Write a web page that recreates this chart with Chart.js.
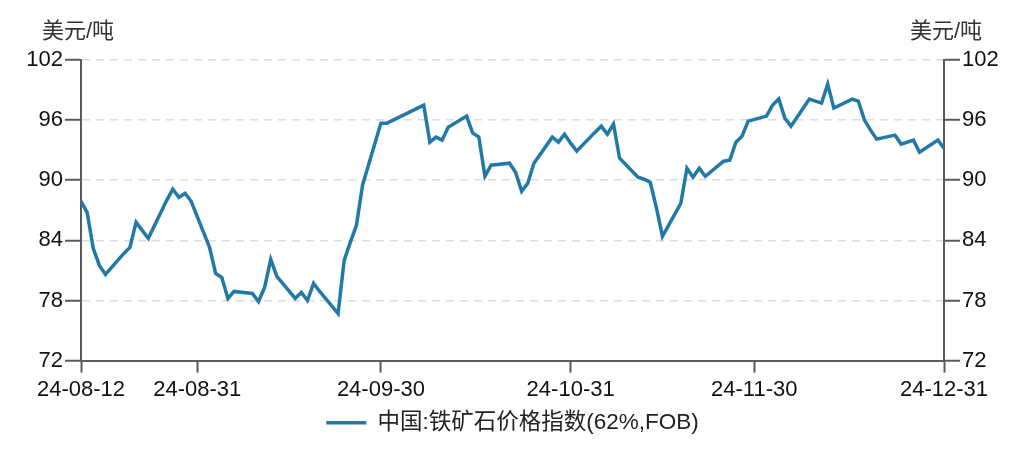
<!DOCTYPE html>
<html>
<head>
<meta charset="utf-8">
<script src="https://cdn.jsdelivr.net/npm/chart.js@4/dist/chart.umd.min.js"></script>
<style>
  html, body { margin: 0; padding: 0; background: #fff; }
  #wrap { width: 1025px; height: 452px; }
</style>
</head>
<body>
<div id="wrap"><canvas id="myChart" width="1025" height="452"></canvas></div>
<script>
// iron ore index, business days
const dates = [
  "2024-08-12","2024-08-13","2024-08-14","2024-08-15","2024-08-16",
  "2024-08-19","2024-08-20","2024-08-21","2024-08-22","2024-08-23",
  "2024-08-26","2024-08-27","2024-08-28","2024-08-29","2024-08-30",
  "2024-09-02","2024-09-03","2024-09-04","2024-09-05","2024-09-06",
  "2024-09-09","2024-09-10","2024-09-11","2024-09-12","2024-09-13",
  "2024-09-16","2024-09-17","2024-09-18","2024-09-19","2024-09-20",
  "2024-09-23","2024-09-24","2024-09-25","2024-09-26","2024-09-27",
  "2024-09-30","2024-10-01","2024-10-02","2024-10-03","2024-10-04",
  "2024-10-07","2024-10-08","2024-10-09","2024-10-10","2024-10-11",
  "2024-10-14","2024-10-15","2024-10-16","2024-10-17","2024-10-18",
  "2024-10-21","2024-10-22","2024-10-23","2024-10-24","2024-10-25",
  "2024-10-28","2024-10-29","2024-10-30","2024-10-31","2024-11-01",
  "2024-11-04","2024-11-05","2024-11-06","2024-11-07","2024-11-08",
  "2024-11-11","2024-11-12","2024-11-13","2024-11-14","2024-11-15",
  "2024-11-18","2024-11-19","2024-11-20","2024-11-21","2024-11-22",
  "2024-11-25","2024-11-26","2024-11-27","2024-11-28","2024-11-29",
  "2024-12-02","2024-12-03","2024-12-04","2024-12-05","2024-12-06",
  "2024-12-09","2024-12-10","2024-12-11","2024-12-12","2024-12-13",
  "2024-12-16","2024-12-17","2024-12-18","2024-12-19","2024-12-20",
  "2024-12-23","2024-12-24","2024-12-26","2024-12-27",
  "2024-12-30","2024-12-31"
];
const values = [
  87.9, 86.8, 83.2, 81.5, 80.6,
  82.7, 83.3, 85.8, 85.0, 84.2,
  88.0, 89.1, 88.3, 88.7, 87.9,
  83.3, 80.7, 80.3, 78.2, 78.9,
  78.7, 77.9, 79.3, 82.1, 80.4,
  78.2, 78.8, 78.0, 79.7, 78.9,
  76.7, 82.0, 83.8, 85.5, 89.5,
  95.7, 95.7, 96.0, 96.3, 96.6,
  97.5, 93.8, 94.3, 94.0, 95.3,
  96.4, 94.7, 94.3, 90.4, 91.5,
  91.7, 90.8, 88.9, 89.7, 91.7,
  94.3, 93.8, 94.6, 93.7, 92.9,
  94.8, 95.4, 94.6, 95.6, 92.2,
  90.3, 90.1, 89.8, 87.3, 84.4,
  87.7, 91.2, 90.3, 91.2, 90.4,
  91.9, 92.0, 93.8, 94.4, 95.9,
  96.4, 97.5, 98.1, 96.2, 95.4,
  98.1, 97.9, 97.7, 99.6, 97.2,
  98.1, 97.9, 96.0, 95.0, 94.1,
  94.5, 93.6, 94.0, 92.8,
  94.0, 93.2
];
const xTickDates = ["2024-08-12","2024-08-31","2024-09-30","2024-10-31","2024-11-30","2024-12-31"];
const yTicks = [72, 78, 84, 90, 96, 102];
const seriesName = "中国:铁矿石价格指数(62%,FOB)";
const unitLabel = "美元/吨";

const DAY = 86400000;
const start = Date.parse(dates[0]);
const dayNo = (s) => Math.round((Date.parse(s) - start) / DAY);
const pad = (n) => String(n).padStart(2, "0");
const fmt = (d) => {
  const t = new Date(start + d * DAY);
  return pad(t.getUTCFullYear() % 100) + "-" + pad(t.getUTCMonth() + 1) + "-" + pad(t.getUTCDate());
};

const FONT = "'Liberation Sans', 'Noto Sans CJK SC', sans-serif";
const AXIS = "#5a5a5a";
const BLUE = "#2279a8";

const unitTitles = {
  id: "unitTitles",
  afterDraw(chart) {
    const ctx = chart.ctx;
    ctx.save();
    ctx.font = "22px " + FONT;
    ctx.fillStyle = "#333";
    ctx.textBaseline = "middle";
    ctx.textAlign = "left";
    ctx.fillText(unitLabel, 42, 32);
    ctx.textAlign = "right";
    ctx.fillText(unitLabel, 982, 32);
    ctx.restore();
  }
};

const yAxis = (pos) => ({
  position: pos,
  min: 72,
  max: 102,
  afterBuildTicks: (s) => { s.ticks = yTicks.map(v => ({ value: v })); },
  afterFit: (s) => { s.width = 81; },
  ticks: { color: "#111", font: { size: 22, family: FONT }, padding: 2 },
  grid: {
    drawOnChartArea: pos === "left",
    color: "#dcdcdc",
    lineWidth: 1.5,
    tickLength: 16,
    tickColor: AXIS,
    tickWidth: 2
  },
  border: { display: true, color: AXIS, width: 2, dash: [8, 6] }
});

new Chart(document.getElementById("myChart").getContext("2d"), {
  type: "line",
  data: {
    datasets: [{
      label: seriesName,
      data: dates.map((d, i) => ({ x: dayNo(d), y: values[i] })),
      borderColor: BLUE,
      backgroundColor: BLUE,
      borderWidth: 3.5,
      pointRadius: 0,
      tension: 0
    }]
  },
  options: {
    responsive: false,
    animation: false,
    layout: { padding: { top: 60, left: 0, right: 0, bottom: 8 } },
    plugins: {
      tooltip: { enabled: false },
      legend: {
        position: "bottom",
        labels: {
          color: "#222",
          font: { size: 22.5, family: FONT },
          usePointStyle: true,
          pointStyle: "line",
          pointStyleWidth: 40,
          boxHeight: 3,
          padding: 4.5
        }
      }
    },
    scales: {
      x: {
        type: "linear",
        min: 0,
        max: dayNo(xTickDates[xTickDates.length - 1]),
        afterBuildTicks: (s) => { s.ticks = xTickDates.map(d => ({ value: dayNo(d) })); },
        ticks: {
          color: "#111",
          font: { size: 22, family: FONT },
          padding: 4,
          maxRotation: 0,
          autoSkip: false,
          callback: (v) => fmt(v)
        },
        grid: { drawOnChartArea: false, tickLength: 12, tickColor: AXIS, tickWidth: 2 },
        border: { display: true, color: AXIS, width: 2 }
      },
      y: yAxis("left"),
      y2: yAxis("right")
    }
  },
  plugins: [unitTitles]
});
</script>
</body>
</html>
